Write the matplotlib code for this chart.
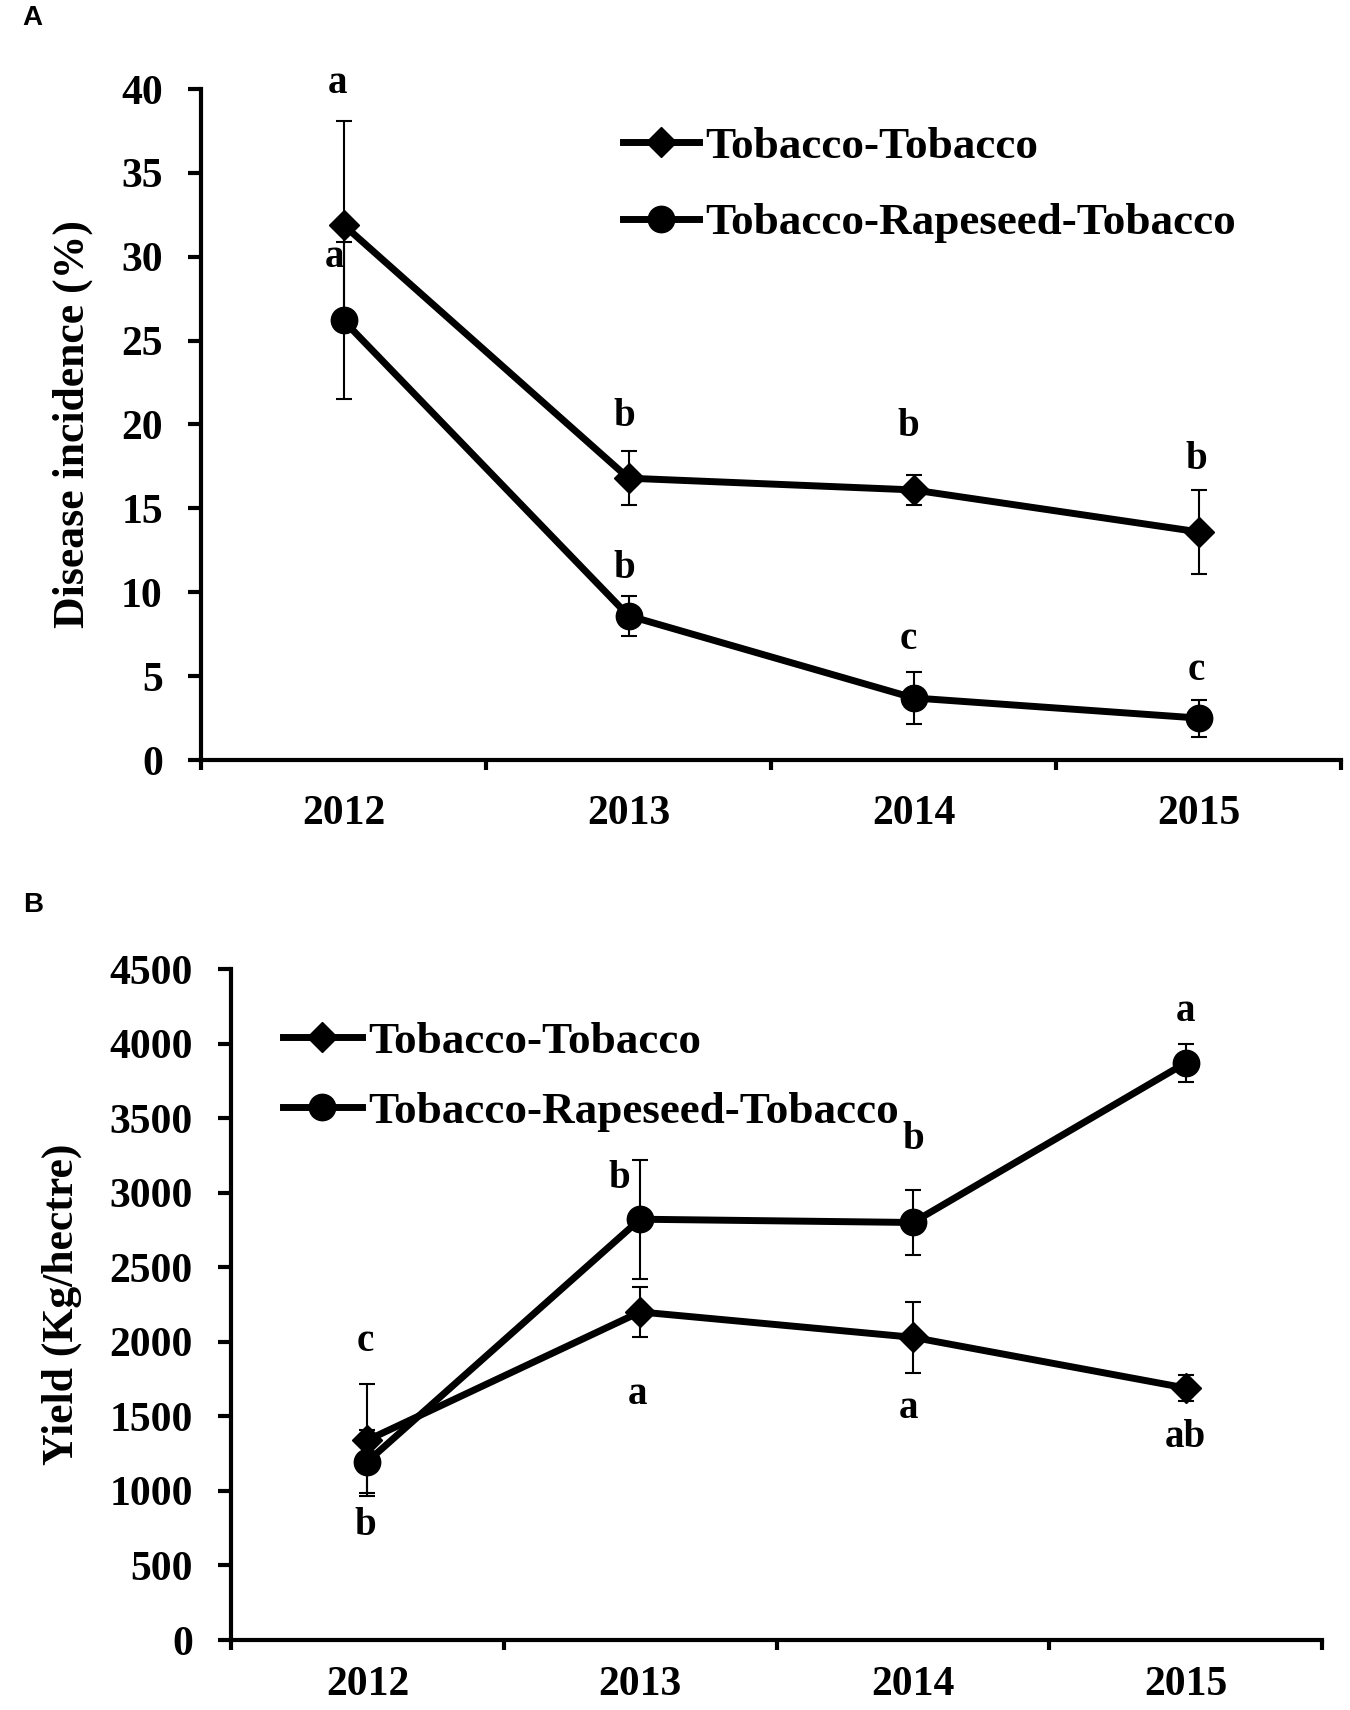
import matplotlib
matplotlib.use("Agg")
import matplotlib.pyplot as plt
from matplotlib.ticker import FixedLocator
import numpy as np

# ---------------- data ----------------
years = ["2012", "2013", "2014", "2015"]
series_names = ["Tobacco-Tobacco", "Tobacco-Rapeseed-Tobacco"]

# Panel A: disease incidence (%)
inc_tt = [31.9, 16.8, 16.1, 13.6]
inc_tt_err = [6.2, 1.6, 0.9, 2.5]
inc_rtr = [26.2, 8.6, 3.7, 2.5]
inc_rtr_err = [4.7, 1.2, 1.55, 1.1]
inc_tt_letters = ["a", "b", "b", "b"]
inc_rtr_letters = ["a", "b", "c", "c"]

# Panel B: yield (Kg/hectre)
yld_tt = [1340, 2200, 2030, 1690]
yld_tt_err = [375, 165, 240, 90]
yld_rtr = [1196, 2822, 2800, 3870]
yld_rtr_err = [210, 400, 220, 125]
yld_tt_letters = ["c", "a", "a", "ab"]
yld_rtr_letters = ["b", "b", "b", "a"]

inc_yticks = [0, 5, 10, 15, 20, 25, 30, 35, 40]
yld_yticks = [0, 500, 1000, 1500, 2000, 2500, 3000, 3500, 4000, 4500]

# ---------------- style ----------------
SERIF = ["Liberation Serif", "DejaVu Serif"]
SANS = ["Liberation Sans", "DejaVu Sans"]
plt.rcParams["font.family"] = SERIF
plt.rcParams["font.weight"] = "bold"

fig = plt.figure(figsize=(13.5, 17.1), dpi=100)
W, H = 1350.0, 1710.0


def px_axes(l, t, r, b):
    return fig.add_axes([l / W, 1 - b / H, (r - l) / W, (b - t) / H])


axA = px_axes(201, 89, 1341, 760)
axB = px_axes(231, 969, 1322, 1640)

x = np.arange(len(years))
TICK_FS = 30


def style_axes(ax, yticks, ylabel, xpad, ylabel_pad):
    for s in ["top", "right"]:
        ax.spines[s].set_visible(False)
    for s in ["left", "bottom"]:
        ax.spines[s].set_linewidth(3.0)
    ax.set_xlim(-0.5, len(years) - 0.5)
    ax.set_ylim(yticks[0], yticks[-1])
    ax.set_yticks(yticks)
    ax.set_yticklabels([str(v) for v in yticks])
    ax.set_xticks(x)
    ax.set_xticklabels(years)
    ax.xaxis.set_minor_locator(FixedLocator(np.arange(-0.5, len(years), 1.0)))
    ax.tick_params(axis="y", which="major", direction="out", length=9.5,
                   width=3.0, labelsize=TICK_FS, pad=18)
    ax.tick_params(axis="x", which="major", length=0, labelsize=TICK_FS,
                   pad=xpad)
    ax.tick_params(axis="x", which="minor", direction="out", length=7,
                   width=3.0)
    for lab in ax.get_xticklabels() + ax.get_yticklabels():
        lab.set_fontweight("bold")
    ax.set_ylabel(ylabel, fontsize=31.5, fontweight="bold",
                  labelpad=ylabel_pad)


def draw_series(ax, vals, errs, marker, msize, label):
    ax.errorbar(x, vals, yerr=errs, fmt="none", ecolor="black",
                elinewidth=1.5, capsize=6, capthick=1.5, zorder=2)
    ax.plot(x, vals, color="black", linewidth=5, marker=marker,
            markersize=msize, markerfacecolor="black",
            markeredgecolor="black", label=label, zorder=3)


def letters(ax, vals, errs, labs, offsets, side):
    for i, (v, e, t) in enumerate(zip(vals, errs, labs)):
        dx, dy = offsets[i]
        anchor = v + e if side[i] == "up" else v - e
        ax.annotate(t, xy=(x[i], anchor), xytext=(dx, dy),
                    textcoords="offset pixels", ha="center", va="center",
                    fontsize=28, fontweight="bold")


LEG_FS = 32.5

# ---------------- Panel A ----------------
draw_series(axA, inc_tt, inc_tt_err, "D", 15, series_names[0])
draw_series(axA, inc_rtr, inc_rtr_err, "o", 19, series_names[1])
style_axes(axA, inc_yticks, "Disease incidence (%)", 25, 20)
letters(axA, inc_tt, inc_tt_err, inc_tt_letters,
        [(-6, 37), (-4, 35), (-5, 48), (-2, 30)], ["up"] * 4)
letters(axA, inc_rtr, inc_rtr_err, inc_rtr_letters,
        [(-9, -16), (-4, 27), (-5, 32), (-2, 29)], ["up"] * 4)
axA.legend(loc="upper left", bbox_to_anchor=(623 / W, 1 - 126 / H),
           bbox_transform=fig.transFigure, frameon=False,
           prop={"family": SERIF, "weight": "bold", "size": LEG_FS},
           handlelength=1.68, handletextpad=0.15, labelspacing=0.8,
           borderpad=0, borderaxespad=0)

# ---------------- Panel B ----------------
draw_series(axB, yld_tt, yld_tt_err, "D", 15, series_names[0])
draw_series(axB, yld_rtr, yld_rtr_err, "o", 19, series_names[1])
style_axes(axB, yld_yticks, "Yield (Kg/hectre)", 19, 20)
letters(axB, yld_tt, yld_tt_err, yld_tt_letters,
        [(-2, 43), (-3, -58), (-4, -35), (0, -36)],
        ["up", "down", "down", "down"])
letters(axB, yld_rtr, yld_rtr_err, yld_rtr_letters,
        [(-2, -33), (-21, -19), (0, 50), (0, 33)],
        ["down", "up", "up", "up"])
axB.legend(loc="upper left", bbox_to_anchor=(283 / W, 1 - 1021 / H),
           bbox_transform=fig.transFigure, frameon=False,
           prop={"family": SERIF, "weight": "bold", "size": LEG_FS},
           handlelength=1.75, handletextpad=0.13, labelspacing=0.65,
           borderpad=0, borderaxespad=0)

# panel letters
fig.text(22 / W, 1 - 18 / H, "A", family=SANS, fontweight="bold",
         fontsize=20, ha="left", va="center")
fig.text(23 / W, 1 - 905 / H, "B", family=SANS, fontweight="bold",
         fontsize=20, ha="left", va="center")

fig.savefig("out.png", dpi=100)
